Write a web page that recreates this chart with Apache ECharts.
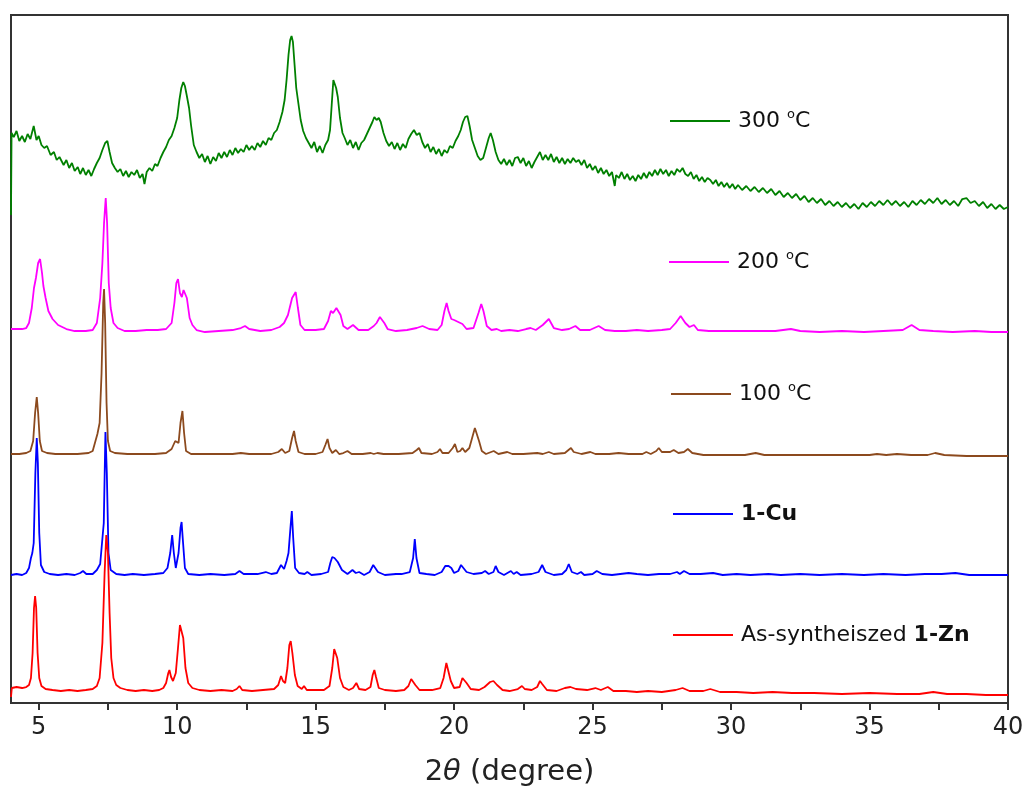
<!DOCTYPE html>
<html>
<head>
<meta charset="utf-8">
<title>PXRD</title>
<script src="https://cdn.jsdelivr.net/npm/echarts@6/dist/echarts.min.js"></script>
<style>
  html, body { margin: 0; padding: 0; background: #fff; }
  #chart { width: 1028px; height: 797px; }
</style>
</head>
<body>
<div id="chart"></div>
<script>
// tick values (2theta, degree)
const labelTicks = [5, 10, 15, 20, 25, 30, 35, 40]
const allTicks = [5, 7.5, 10, 12.5, 15, 17.5, 20, 22.5, 25, 27.5, 30, 32.5, 35, 37.5, 40]

// intensity (a.u., offset patterns), [2theta, I]
const t300 = [
  [4.0, 488], [4.02, 570], [4.1, 566], [4.2, 572], [4.3, 562], [4.4, 567], [4.5, 561], [4.6, 569], [4.7, 564], [4.82, 577],
  [4.92, 563], [5.0, 567], [5.1, 558], [5.2, 555], [5.3, 557], [5.43, 548], [5.55, 551], [5.65, 543], [5.75, 546], [5.9, 538],
  [6.0, 543], [6.1, 535], [6.2, 540], [6.3, 532], [6.41, 536], [6.5, 529], [6.6, 535], [6.7, 528], [6.8, 533], [6.9, 527],
  [7.0, 534], [7.1, 540], [7.2, 545], [7.3, 553], [7.4, 560], [7.48, 562], [7.56, 551], [7.65, 540], [7.75, 535], [7.85, 531],
  [7.95, 534], [8.05, 527], [8.15, 532], [8.25, 526], [8.35, 531], [8.45, 528], [8.55, 533], [8.65, 525], [8.75, 529], [8.82, 519],
  [8.9, 531], [9.0, 535], [9.1, 532], [9.2, 539], [9.29, 537], [9.4, 545], [9.5, 551], [9.6, 556], [9.7, 563], [9.8, 567],
  [9.9, 575], [10.0, 585], [10.08, 603], [10.15, 615], [10.22, 621], [10.28, 617], [10.35, 607], [10.43, 595], [10.5, 578], [10.6, 558],
  [10.7, 551], [10.8, 545], [10.9, 549], [11.0, 541], [11.1, 547], [11.2, 539], [11.3, 546], [11.4, 542], [11.5, 550], [11.6, 545],
  [11.7, 551], [11.8, 546], [11.9, 553], [12.0, 548], [12.1, 555], [12.2, 550], [12.3, 554], [12.4, 551], [12.5, 558], [12.6, 553],
  [12.7, 557], [12.8, 553], [12.9, 560], [13.0, 556], [13.1, 562], [13.2, 558], [13.3, 565], [13.4, 563], [13.5, 570], [13.6, 573],
  [13.7, 581], [13.8, 591], [13.88, 603], [13.95, 623], [14.02, 648], [14.08, 663], [14.13, 667], [14.18, 661], [14.24, 638], [14.3, 615],
  [14.38, 599], [14.46, 583], [14.55, 572], [14.65, 565], [14.75, 560], [14.85, 555], [14.95, 561], [15.05, 551], [15.15, 557], [15.25, 550],
  [15.35, 558], [15.45, 563], [15.52, 573], [15.58, 598], [15.64, 623], [15.69, 625], [15.74, 615], [15.8, 606], [15.88, 585], [15.97, 570],
  [16.05, 565], [16.15, 558], [16.25, 563], [16.35, 555], [16.45, 561], [16.55, 553], [16.65, 560], [16.75, 563], [16.85, 569], [16.95, 575],
  [17.05, 581], [17.12, 586], [17.2, 583], [17.28, 585], [17.35, 581], [17.45, 570], [17.55, 562], [17.65, 557], [17.75, 561], [17.85, 554],
  [17.95, 560], [18.05, 553], [18.15, 559], [18.25, 555], [18.35, 564], [18.45, 569], [18.55, 573], [18.65, 568], [18.75, 570], [18.85, 561],
  [18.95, 555], [19.05, 559], [19.15, 551], [19.25, 556], [19.35, 549], [19.45, 554], [19.55, 547], [19.65, 553], [19.75, 550], [19.85, 557],
  [19.95, 555], [20.05, 562], [20.15, 567], [20.24, 573], [20.32, 581], [20.4, 586], [20.48, 587], [20.56, 577], [20.65, 563], [20.75, 555],
  [20.85, 547], [20.95, 543], [21.05, 545], [21.15, 555], [21.25, 565], [21.32, 570], [21.4, 563], [21.5, 551], [21.6, 543], [21.7, 539],
  [21.8, 544], [21.9, 538], [22.0, 543], [22.1, 537], [22.2, 545], [22.3, 546], [22.4, 540], [22.5, 545], [22.6, 537], [22.7, 542],
  [22.8, 535], [22.9, 541], [23.0, 546], [23.1, 551], [23.2, 543], [23.3, 548], [23.4, 543], [23.5, 549], [23.6, 541], [23.7, 546],
  [23.8, 540], [23.9, 545], [24.0, 539], [24.1, 544], [24.2, 540], [24.3, 545], [24.4, 541], [24.5, 543], [24.6, 538], [24.7, 543],
  [24.8, 535], [24.9, 539], [25.0, 533], [25.1, 537], [25.2, 530], [25.3, 535], [25.4, 529], [25.5, 533], [25.6, 527], [25.7, 531],
  [25.8, 517], [25.85, 528], [25.95, 525], [26.05, 531], [26.15, 524], [26.25, 529], [26.35, 523], [26.45, 527], [26.55, 522], [26.65, 528],
  [26.75, 524], [26.85, 530], [26.95, 525], [27.05, 531], [27.15, 527], [27.25, 533], [27.35, 528], [27.45, 534], [27.55, 529], [27.65, 533],
  [27.75, 527], [27.85, 532], [27.95, 528], [28.05, 534], [28.15, 531], [28.25, 535], [28.35, 529], [28.45, 527], [28.55, 531], [28.65, 524],
  [28.75, 528], [28.85, 522], [28.95, 526], [29.05, 521], [29.15, 525], [29.25, 523], [29.35, 519], [29.45, 523], [29.55, 517], [29.65, 521],
  [29.75, 516], [29.85, 520], [29.95, 515], [30.05, 519], [30.15, 514], [30.25, 518], [30.4, 513], [30.55, 517], [30.7, 512], [30.85, 516],
  [31.0, 511], [31.15, 515], [31.3, 510], [31.45, 514], [31.6, 508], [31.75, 512], [31.9, 506], [32.05, 510], [32.2, 505], [32.35, 509],
  [32.5, 503], [32.65, 507], [32.8, 501], [32.95, 505], [33.1, 500], [33.25, 504], [33.4, 498], [33.55, 502], [33.7, 497], [33.85, 501],
  [34.0, 496], [34.15, 500], [34.3, 495], [34.45, 499], [34.6, 494], [34.75, 500], [34.9, 496], [35.05, 501], [35.2, 497], [35.35, 502],
  [35.5, 498], [35.65, 503], [35.8, 498], [35.95, 502], [36.1, 497], [36.25, 501], [36.4, 496], [36.55, 502], [36.7, 498], [36.85, 503],
  [37.0, 499], [37.15, 504], [37.3, 500], [37.45, 505], [37.6, 499], [37.75, 503], [37.9, 498], [38.05, 502], [38.2, 497], [38.35, 504],
  [38.5, 505], [38.65, 500], [38.8, 502], [38.95, 497], [39.1, 501], [39.25, 495], [39.4, 499], [39.55, 494], [39.7, 498], [39.85, 494],
  [40.0, 496]
]

const t200 = [
  [4.0, 374], [4.2, 374], [4.4, 374], [4.55, 375], [4.65, 380], [4.75, 395], [4.83, 415], [4.9, 425], [4.98, 440], [5.05, 444],
  [5.12, 430], [5.17, 417], [5.25, 405], [5.35, 392], [5.5, 384], [5.7, 378], [6.0, 374], [6.3, 372], [6.7, 372], [6.95, 373],
  [7.1, 380], [7.22, 405], [7.3, 440], [7.36, 480], [7.42, 505], [7.47, 480], [7.53, 420], [7.6, 395], [7.7, 380], [7.85, 375],
  [8.1, 372], [8.5, 372], [8.9, 373], [9.3, 373], [9.6, 374], [9.8, 380], [9.9, 400], [9.97, 420], [10.03, 424], [10.1, 410],
  [10.17, 406], [10.23, 413], [10.28, 415], [10.35, 405], [10.45, 385], [10.55, 378], [10.7, 373], [11.0, 371], [11.5, 372], [12.0, 373],
  [12.3, 375], [12.45, 377], [12.6, 374], [13.0, 372], [13.4, 373], [13.7, 376], [13.86, 380], [14.0, 388], [14.15, 405], [14.28, 411],
  [14.36, 395], [14.45, 378], [14.6, 373], [15.0, 373], [15.3, 374], [15.45, 382], [15.55, 392], [15.63, 390], [15.75, 395], [15.82, 397],
  [15.9, 388], [16.0, 377], [16.15, 374], [16.35, 378], [16.55, 373], [16.9, 373], [17.1, 377], [17.2, 380], [17.32, 386], [17.39, 387],
  [17.48, 380], [17.6, 374], [17.9, 372], [18.3, 373], [18.65, 375], [18.86, 377], [19.1, 374], [19.4, 373], [19.55, 378], [19.65, 392],
  [19.73, 400], [19.8, 392], [19.9, 384], [20.0, 383], [20.15, 381], [20.3, 379], [20.45, 374], [20.7, 375], [20.88, 390], [20.98, 399],
  [21.06, 392], [21.18, 377], [21.35, 373], [21.54, 374], [21.7, 372], [22.0, 373], [22.3, 372], [22.6, 374], [22.76, 375], [22.95, 373],
  [23.2, 378], [23.42, 384], [23.6, 375], [23.9, 373], [24.15, 374], [24.38, 377], [24.55, 373], [24.9, 373], [25.22, 377], [25.45, 373],
  [25.8, 372], [26.2, 372], [26.6, 373], [27.0, 372], [27.5, 373], [27.8, 374], [28.0, 380], [28.18, 387], [28.35, 380], [28.5, 376],
  [28.66, 378], [28.8, 373], [29.2, 372], [29.8, 372], [30.4, 372], [31.0, 372], [31.6, 372], [32.16, 374], [32.5, 372], [33.2, 371],
  [34.0, 372], [34.8, 371], [35.5, 372], [36.2, 373], [36.52, 378], [36.8, 373], [37.3, 372], [38.0, 371], [38.8, 372], [39.4, 371],
  [40.0, 371]
]

const t100 = [
  [4.0, 249], [4.3, 249], [4.55, 250], [4.7, 252], [4.8, 262], [4.87, 290], [4.93, 306], [4.98, 290], [5.04, 262], [5.12, 252],
  [5.3, 250], [5.6, 249], [6.0, 249], [6.4, 249], [6.8, 250], [6.95, 252], [7.05, 262], [7.12, 269], [7.2, 280], [7.27, 330],
  [7.33, 400], [7.36, 414], [7.4, 380], [7.45, 300], [7.5, 262], [7.58, 252], [7.75, 250], [8.2, 249], [8.7, 249], [9.2, 249],
  [9.6, 250], [9.8, 254], [9.93, 262], [9.98, 264], [10.05, 260], [10.12, 280], [10.19, 292], [10.25, 270], [10.32, 252], [10.5, 249],
  [11.0, 249], [11.5, 249], [12.0, 249], [12.3, 250], [12.6, 249], [13.0, 249], [13.4, 249], [13.65, 251], [13.78, 254], [13.9, 250],
  [14.05, 252], [14.15, 265], [14.22, 272], [14.28, 262], [14.38, 251], [14.6, 249], [15.0, 249], [15.25, 251], [15.35, 258], [15.43, 264],
  [15.5, 255], [15.6, 250], [15.73, 253], [15.85, 249], [16.0, 250], [16.15, 252], [16.3, 249], [16.7, 249], [16.99, 250], [17.1, 249],
  [17.23, 250], [17.45, 249], [18.0, 249], [18.5, 250], [18.65, 253], [18.73, 255], [18.82, 250], [19.2, 249], [19.4, 251], [19.49, 254],
  [19.58, 250], [19.8, 250], [19.95, 255], [20.03, 259], [20.12, 251], [20.22, 252], [20.3, 255], [20.4, 251], [20.55, 255], [20.65, 265],
  [20.75, 275], [20.82, 274], [20.9, 262], [21.0, 252], [21.15, 249], [21.43, 252], [21.6, 249], [21.92, 251], [22.1, 249], [22.5, 249],
  [23.0, 250], [23.2, 249], [23.42, 251], [23.6, 249], [24.0, 250], [24.13, 253], [24.22, 255], [24.32, 251], [24.6, 249], [24.92, 251],
  [25.1, 249], [25.6, 249], [25.94, 250], [26.3, 249], [26.8, 249], [26.94, 251], [27.1, 249], [27.3, 252], [27.39, 255], [27.5, 251],
  [27.8, 251], [27.93, 253], [28.1, 250], [28.3, 251], [28.44, 254], [28.6, 250], [29.0, 248], [29.5, 248], [30.0, 248], [30.5, 248],
  [30.89, 250], [31.2, 248], [32.0, 248], [33.0, 248], [34.0, 248], [35.0, 248], [35.27, 249], [35.6, 248], [35.99, 249], [36.5, 248],
  [37.1, 248], [37.37, 250], [37.7, 248], [38.5, 247], [39.3, 247], [40.0, 247]
]

const cu = [
  [4.0, 128], [4.2, 129], [4.4, 128], [4.55, 130], [4.65, 135], [4.72, 145], [4.77, 150], [4.82, 160], [4.88, 230], [4.93, 265],
  [4.97, 240], [5.02, 170], [5.08, 138], [5.2, 131], [5.4, 129], [5.7, 128], [6.0, 129], [6.3, 128], [6.5, 130], [6.6, 132],
  [6.72, 129], [6.95, 129], [7.1, 133], [7.22, 139], [7.28, 141], [7.35, 180], [7.41, 271], [7.46, 230], [7.52, 150], [7.6, 133],
  [7.8, 129], [8.1, 128], [8.4, 129], [8.8, 128], [9.2, 129], [9.5, 130], [9.65, 135], [9.75, 150], [9.82, 168], [9.88, 150],
  [9.95, 135], [10.05, 150], [10.12, 175], [10.16, 181], [10.2, 165], [10.28, 135], [10.4, 129], [10.8, 128], [11.2, 129], [11.7, 128],
  [12.1, 129], [12.25, 132], [12.4, 129], [12.9, 129], [13.2, 131], [13.4, 129], [13.6, 130], [13.75, 138], [13.8, 140], [13.86, 134],
  [13.95, 142], [14.02, 150], [14.09, 175], [14.14, 192], [14.19, 165], [14.26, 135], [14.4, 130], [14.6, 129], [14.7, 131], [14.85, 128],
  [15.2, 129], [15.45, 131], [15.53, 140], [15.6, 146], [15.68, 145], [15.8, 141], [15.95, 133], [16.15, 129], [16.33, 133], [16.45, 130],
  [16.57, 131], [16.75, 128], [16.95, 131], [17.08, 138], [17.14, 139], [17.25, 131], [17.5, 128], [17.9, 129], [18.1, 129], [18.4, 131],
  [18.52, 145], [18.58, 164], [18.64, 145], [18.75, 130], [19.0, 129], [19.3, 128], [19.55, 131], [19.68, 137], [19.8, 137], [19.9, 135],
  [20.0, 130], [20.15, 132], [20.25, 138], [20.32, 139], [20.45, 131], [20.7, 129], [21.0, 130], [21.12, 132], [21.25, 129], [21.42, 131],
  [21.5, 137], [21.6, 131], [21.8, 128], [22.05, 132], [22.15, 129], [22.26, 131], [22.4, 128], [22.8, 129], [23.05, 131], [23.18, 138],
  [23.3, 131], [23.6, 128], [23.9, 129], [24.05, 133], [24.14, 139], [24.25, 131], [24.45, 129], [24.58, 131], [24.7, 128], [25.0, 129],
  [25.15, 132], [25.35, 129], [25.7, 128], [26.0, 129], [26.3, 130], [26.6, 129], [27.0, 128], [27.4, 129], [27.8, 129], [28.05, 131],
  [28.15, 129], [28.3, 132], [28.5, 129], [28.9, 129], [29.35, 130], [29.7, 128], [30.2, 129], [30.7, 128], [31.35, 129], [31.8, 128],
  [32.5, 129], [33.2, 128], [34.0, 129], [34.8, 128], [35.5, 129], [36.3, 128], [37.0, 129], [37.6, 129], [38.1, 130], [38.6, 128],
  [39.3, 128], [40.0, 128]
]

const zn = [
  [4.0, 6], [4.03, 15], [4.2, 16], [4.4, 15], [4.55, 16], [4.65, 18], [4.72, 25], [4.78, 50], [4.83, 95], [4.87, 107],
  [4.91, 95], [4.96, 50], [5.02, 25], [5.1, 17], [5.25, 14], [5.5, 13], [5.8, 12], [6.1, 13], [6.4, 12], [6.7, 13],
  [6.95, 14], [7.1, 17], [7.2, 25], [7.3, 60], [7.38, 130], [7.44, 168], [7.5, 150], [7.56, 90], [7.62, 45], [7.7, 25],
  [7.8, 18], [7.95, 15], [8.2, 13], [8.5, 12], [8.8, 13], [9.1, 12], [9.35, 13], [9.5, 15], [9.6, 20], [9.68, 30],
  [9.72, 33], [9.78, 26], [9.85, 22], [9.95, 30], [10.03, 55], [10.1, 78], [10.16, 80], [10.22, 65], [10.3, 35], [10.4, 20],
  [10.55, 15], [10.8, 13], [11.2, 12], [11.6, 13], [12.0, 12], [12.15, 14], [12.25, 17], [12.35, 13], [12.7, 12], [13.1, 13],
  [13.5, 14], [13.65, 18], [13.75, 27], [13.82, 22], [13.9, 20], [13.98, 35], [14.05, 58], [14.1, 62], [14.16, 50], [14.25, 28],
  [14.35, 17], [14.5, 14], [14.58, 17], [14.68, 13], [15.0, 13], [15.3, 13], [15.5, 17], [15.6, 35], [15.67, 54], [15.72, 56],
  [15.78, 45], [15.88, 25], [16.0, 16], [16.2, 13], [16.35, 15], [16.47, 20], [16.57, 14], [16.8, 13], [16.98, 16], [17.06, 28],
  [17.12, 33], [17.18, 26], [17.28, 15], [17.5, 13], [17.9, 12], [18.2, 13], [18.35, 17], [18.45, 24], [18.52, 25], [18.6, 18],
  [18.75, 13], [19.2, 13], [19.5, 15], [19.62, 25], [19.72, 40], [19.78, 38], [19.88, 22], [20.0, 15], [20.2, 16], [20.3, 25],
  [20.37, 27], [20.45, 20], [20.6, 14], [20.9, 13], [21.1, 16], [21.3, 21], [21.42, 22], [21.55, 18], [21.75, 13], [22.0, 12],
  [22.3, 14], [22.45, 17], [22.55, 14], [22.8, 13], [23.0, 16], [23.1, 22], [23.18, 19], [23.35, 13], [23.7, 12], [24.0, 15],
  [24.2, 16], [24.4, 14], [24.8, 13], [25.1, 15], [25.3, 13], [25.55, 16], [25.75, 12], [26.2, 12], [26.6, 11], [27.0, 12],
  [27.5, 11], [28.0, 13], [28.25, 15], [28.5, 12], [29.0, 12], [29.25, 14], [29.6, 11], [30.2, 11], [30.8, 10], [31.5, 11],
  [32.2, 10], [33.0, 10], [34.0, 9], [35.0, 10], [36.0, 9], [36.8, 9], [37.3, 11], [37.8, 9], [38.5, 9], [39.2, 8],
  [40.0, 8]
]

const names = ['300 °C', '200 °C', '100 °C', '1-Cu', 'As-syntheiszed 1-Zn']
const colors = ['#008000', '#ff00ff', '#8c4a1e', '#0000ff', '#ff0000']
const patterns = [t300, t200, t100, cu, zn]
// legend anchor: [left, center y]
const legendPos = [[670, 121], [669, 262], [671, 394], [673, 516], [673, 637]]

const font = 'DejaVu Sans'
const chart = echarts.init(document.getElementById('chart'))

const rich = {
  t: { fontFamily: font, fontSize: 22, color: '#111', lineHeight: 26, verticalAlign: 'middle' },
  b: { fontFamily: font, fontSize: 22, color: '#111', fontWeight: 'bold', lineHeight: 26, verticalAlign: 'middle' },
  s: { fontFamily: font, fontSize: 13, color: '#111', lineHeight: 13, verticalAlign: 'top' }
}

function legendText(name) {
  if (name === '1-Cu') return '{b|1-Cu}'
  if (name === 'As-syntheiszed 1-Zn') return '{t|As-syntheiszed }{b|1-Zn}'
  return '{t|' + name.split(' ')[0] + ' }{s|o}{t|C}'
}

const option = {
  animation: false,
  backgroundColor: '#fff',
  grid: {
    left: 11,
    right: 20,
    top: 15,
    bottom: 94,
    show: true,
    borderColor: '#333',
    borderWidth: 2,
    backgroundColor: 'transparent'
  },
  legend: names.map((n, i) => ({
    data: [n],
    left: legendPos[i][0],
    top: legendPos[i][1] - 13,
    padding: 0,
    icon: 'rect',
    itemWidth: 60,
    itemHeight: 2,
    selectedMode: false,
    formatter: legendText,
    textStyle: { rich: rich, padding: [0, 0, 0, 3] }
  })),
  xAxis: {
    type: 'value',
    min: 4,
    max: 40,
    name: '2{i|θ} (degree)',
    nameLocation: 'middle',
    nameGap: 55,
    nameTextStyle: {
      fontFamily: font,
      fontSize: 29,
      color: '#222',
      rich: { i: { fontFamily: font, fontSize: 29, fontStyle: 'italic', color: '#222' } }
    },
    axisLine: { lineStyle: { color: '#333', width: 2 } },
    axisTick: { customValues: allTicks, length: 7, lineStyle: { color: '#333', width: 2 } },
    axisLabel: { customValues: labelTicks, fontFamily: font, fontSize: 24, color: '#222', margin: 13 },
    splitLine: { show: false }
  },
  yAxis: {
    type: 'value',
    min: 0,
    max: 688,
    show: false
  },
  series: patterns.map((p, i) => ({
    name: names[i],
    type: 'line',
    data: p,
    showSymbol: false,
    symbol: 'none',
    itemStyle: { color: colors[i] },
    lineStyle: { color: colors[i], width: 1.8 }
  }))
}

chart.setOption(option)
</script>
</body>
</html>
